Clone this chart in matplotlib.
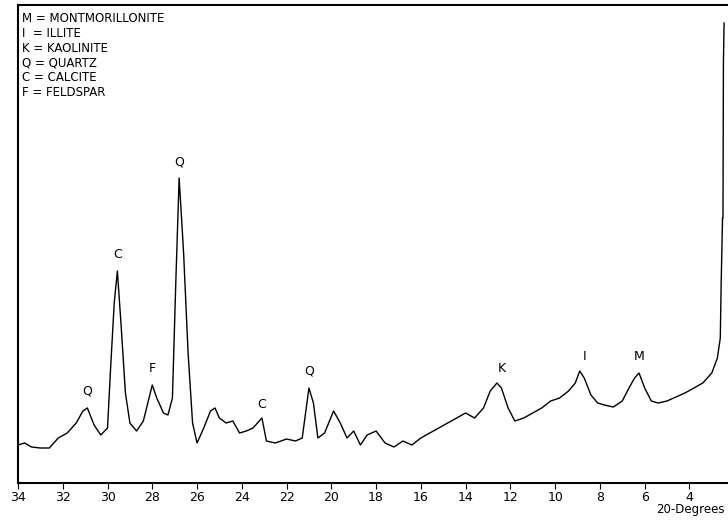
import matplotlib.pyplot as plt

# diffractogram trace (2-theta degrees, relative intensity)
two_theta = [34.0, 33.7, 33.4, 33.0, 32.6, 32.2, 31.8, 31.4, 31.1, 30.9, 30.6, 30.3, 30.0,
             29.85, 29.7, 29.56, 29.4, 29.2, 29.0, 28.7, 28.4, 28.2, 28.0, 27.8, 27.5, 27.3,
             27.1, 26.95, 26.8, 26.6, 26.4, 26.2, 26.0, 25.7, 25.4, 25.2, 25.0, 24.7, 24.4,
             24.1, 23.8, 23.5, 23.1, 22.9, 22.5, 22.0, 21.6, 21.3, 21.0, 20.8, 20.6, 20.3,
             19.9, 19.6, 19.3, 19.0, 18.7, 18.4, 18.0, 17.6, 17.2, 16.8, 16.4, 16.0, 15.6,
             15.2, 14.8, 14.4, 14.0, 13.6, 13.2, 12.9, 12.6, 12.4, 12.1, 11.8, 11.4, 11.0,
             10.6, 10.2, 9.8, 9.4, 9.1, 8.9, 8.7, 8.4, 8.1, 7.8, 7.4, 7.0, 6.7, 6.45, 6.25,
             6.0, 5.7, 5.4, 5.0, 4.6, 4.2, 3.8, 3.4, 3.0, 2.75, 2.62, 2.58, 2.52, 2.5, 2.48, 2.45]
intensity = [38, 40, 36, 35, 35, 45, 50, 60, 72, 75, 58, 48, 55,
             120, 180, 212, 160, 90, 60, 52, 62, 80, 98, 85, 70, 68,
             85, 200, 305, 230, 130, 60, 40, 55, 72, 75, 65, 60, 62,
             50, 52, 55, 65, 42, 40, 44, 42, 45, 95, 80, 45, 50,
             72, 60, 45, 52, 38, 48, 52, 40, 36, 42, 38, 45, 50,
             55, 60, 65, 70, 65, 75, 92, 100, 95, 75, 62, 65, 70,
             75, 82, 85, 92, 100, 112, 105, 88, 80, 78, 76, 82, 95, 105, 110,
             95, 82, 80, 82, 86, 90, 95, 100, 110, 125, 145, 200, 265, 265, 420, 460]

labels = ['Q', 'C', 'F', 'Q', 'C', 'Q', 'K', 'I', 'M']
label_x = [30.9, 29.56, 28.0, 26.8, 23.1, 21.0, 12.4, 8.7, 6.25]
label_y = [85, 222, 108, 315, 72, 105, 108, 120, 120]

legend_lines = ['M = MONTMORILLONITE', 'I  = ILLITE', 'K = KAOLINITE',
                'Q = QUARTZ', 'C = CALCITE', 'F = FELDSPAR']
ticks = list(range(34, 1, -2))

fig = plt.figure(figsize=(7.28, 5.27), dpi=100)
ax = fig.add_axes([18 / 728, 44 / 527, 1.0 - 18 / 728 + 0.01, 478 / 527])
ax.plot(two_theta, intensity, color='black', lw=1.0)
ax.set_xlim(34, 1.95)
ax.set_ylim(0, 478)
ax.set_xticks(ticks)
ax.set_xticklabels([str(t) for t in ticks], fontsize=9)
ax.set_yticks([])
ax.tick_params(axis='x', direction='out', length=4, pad=2)
for s in ['top', 'left', 'bottom']:
    ax.spines[s].set_linewidth(1.5)
ax.spines['right'].set_visible(False)

for lab, x, y in zip(labels, label_x, label_y):
    ax.text(x, y, lab, ha='center', va='bottom', fontsize=9)

for i, line in enumerate(legend_lines):
    ax.text(0.005, 0.985 - i * 0.031, line, transform=ax.transAxes, fontsize=8.5,
            va='top', ha='left')

fig.text(0.995, 0.02, '20-Degrees', ha='right', va='bottom', fontsize=8.5)

fig.savefig('out.png', dpi=100)
